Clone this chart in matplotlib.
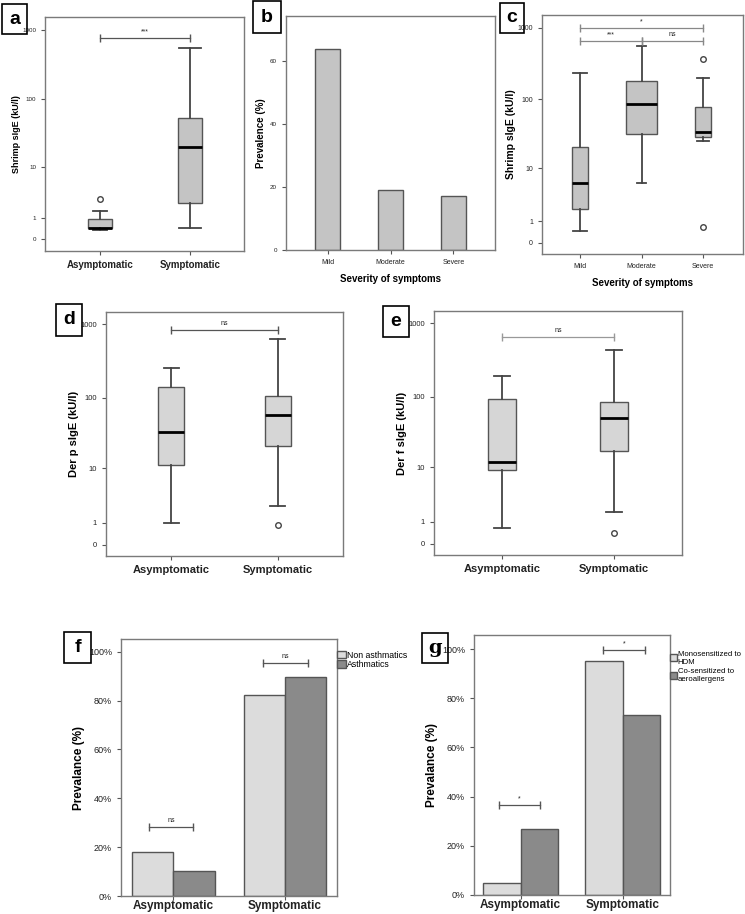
import numpy as np
import matplotlib
matplotlib.use('Agg')
import matplotlib.pyplot as plt
from matplotlib.patches import Rectangle
from matplotlib.ticker import PercentFormatter

plt.rcParams['font.family'] = ['Liberation Sans', 'DejaVu Sans']

W, H = 745, 914

# ---------------- data ----------------
groups = ['Asymptomatic', 'Symptomatic']
severity = ['Mild', 'Moderate', 'Severe']
log_ticks = [0, 1, 10, 100, 1000]

# a: shrimp sIgE (kU/l), box stats per group
a_whislo = [0.36, 0.45]
a_q1 = [0.43, 2.3]
a_med = [0.43, 20]
a_q3 = [0.95, 53]
a_whishi = [1.54, 545]
a_fliers = [[2.8], []]

# b: prevalence (%) by severity
b_prev = [63.8, 19.0, 17.2]

# c: shrimp sIgE by severity
c_whislo = [0.49, 5.95, 25.3]
c_q1 = [1.96, 31.6, 28.9]
c_med = [5.8, 86, 34]
c_q3 = [20.7, 178, 79]
c_whishi = [233, 551, 202]
c_fliers = [[], [], [367, 0.69]]

# d: Der p sIgE
d_whislo = [0.98, 2.44]
d_q1 = [11.2, 21.4]
d_med = [33, 58]
d_q3 = [141, 107]
d_whishi = [251, 625]
d_fliers = [[], [0.87]]

# e: Der f sIgE
e_whislo = [0.65, 1.72]
e_q1 = [9.3, 17.7]
e_med = [11.9, 50]
e_q3 = [93, 85.5]
e_whishi = [194, 431]
e_fliers = [[], [0.40]]

# f: prevalence (%) by asthma status
f_non_asth = [17.9, 82.1]
f_asth = [10.3, 89.7]

# g: prevalence (%) by sensitization
g_mono = [4.8, 95.2]
g_cosens = [26.7, 73.3]

fig = plt.figure(figsize=(W / 100, H / 100), dpi=100)


def px_axes(x0, y0, x1, y1):
    return fig.add_axes([x0 / W, 1 - y1 / H, (x1 - x0) / W, (y1 - y0) / H])


def panel_tag(x0, y0, x1, y1, letter, family=None):
    fig.patches.append(Rectangle((x0 / W, 1 - y1 / H), (x1 - x0) / W, (y1 - y0) / H,
                                 transform=fig.transFigure, fill=False,
                                 edgecolor='black', lw=1.2))
    kw = {}
    if family:
        kw['family'] = family
    fig.text((x0 + x1) / 2 / W, 1 - (y0 + y1) / 2 / H, letter, ha='center',
             va='center', fontsize=14, fontweight='bold', **kw)


def style(ax, ytick_fs):
    for s in ax.spines.values():
        s.set_color('#7a7a7a')
        s.set_linewidth(1)
    ax.tick_params(direction='out', length=3, width=0.8, colors='#555555',
                   labelcolor='#222222')
    ax.tick_params(axis='y', labelsize=ytick_fs)


def fwd(y):
    return np.log10(np.clip(np.asarray(y, float) + 1, 1e-6, None))


def inv(t):
    return 10 ** np.asarray(t, float) - 1


def log_axis(ax, fs):
    ax.set_yscale('function', functions=(fwd, inv))
    ax.set_ylim(inv(-0.16), inv(3.18))
    ax.set_yticks(log_ticks)
    ax.set_yticklabels([str(t) for t in log_ticks])
    ax.minorticks_off()
    ax.tick_params(axis='y', labelsize=fs)


def boxes(ax, whislo, q1, med, q3, whishi, fliers, widths, capwidths, face,
          wcolor='#444444'):
    stats = [dict(whislo=a, q1=b, med=c, q3=d, whishi=e, fliers=f)
             for a, b, c, d, e, f in zip(whislo, q1, med, q3, whishi, fliers)]
    ax.bxp(stats, positions=range(1, len(stats) + 1), widths=widths,
           capwidths=capwidths, patch_artist=True,
           boxprops=dict(facecolor=face, edgecolor='#555555', linewidth=1),
           medianprops=dict(color='black', linewidth=2),
           whiskerprops=dict(color=wcolor, linewidth=1.3),
           capprops=dict(color=wcolor, linewidth=1.3),
           flierprops=dict(marker='o', markerfacecolor='white',
                           markeredgecolor='#444444', markersize=4))


def sig(ax, x0, x1, y, text, fs=5, color='#555555'):
    ax.plot([x0, x1], [y, y], color=color, lw=0.9, marker='|', markersize=6,
            markeredgewidth=1)
    ax.annotate(text, ((x0 + x1) / 2, y), xytext=(0, 2), textcoords='offset points',
                ha='center', va='bottom', fontsize=fs, color='#222222')


# ---------------- a ----------------
ax = px_axes(45, 17, 244, 251)
boxes(ax, a_whislo, a_q1, a_med, a_q3, a_whishi, a_fliers,
      [0.26, 0.26], [0.15, 0.24], '#c4c4c4')
log_axis(ax, 4.5)
ax.set_ylim(inv(-0.167), inv(3.18))
ax.set_xlim(0.39, 2.6)
style(ax, 4.5)
ax.set_xticks([1, 2])
ax.set_xticklabels(groups, fontsize=7, fontweight='bold')
ax.set_ylabel('Shrimp sIgE (kU/l)', fontsize=6.5, fontweight='bold', labelpad=1)
sig(ax, 1, 2, 750, '***', fs=5)
panel_tag(2, 4, 27, 34, 'a')

# ---------------- b ----------------
ax = px_axes(286, 16, 495, 250)
ax.bar(range(len(severity)), b_prev, width=0.4, color='#c4c4c4',
       edgecolor='#555555', linewidth=1)
ax.set_xlim(-0.66, 2.66)
ax.set_ylim(0, 74.3)
ax.set_yticks([0, 20, 40, 60])
style(ax, 4.5)
ax.set_xticks(range(len(severity)))
ax.set_xticklabels(severity, fontsize=5)
ax.set_xlabel('Severity of symptoms', fontsize=7, fontweight='bold', labelpad=6)
ax.set_ylabel('Prevalence (%)', fontsize=7, fontweight='bold', labelpad=3)
panel_tag(253, 1, 281, 33, 'b')

# ---------------- c ----------------
ax = px_axes(542, 15, 743, 254)
boxes(ax, c_whislo, c_q1, c_med, c_q3, c_whishi, c_fliers,
      [0.26, 0.5, 0.26], [0.24, 0.15, 0.2], '#c4c4c4')
log_axis(ax, 5)
ax.set_ylim(inv(-0.154), inv(3.18))
ax.set_xlim(0.38, 3.65)
style(ax, 5)
ax.set_xticks([1, 2, 3])
ax.set_xticklabels(severity, fontsize=5)
ax.set_xlabel('Severity of symptoms', fontsize=7, fontweight='bold', labelpad=6)
ax.set_ylabel('Shrimp sIgE (kU/l)', fontsize=7.5, fontweight='bold', labelpad=1)
sig(ax, 1, 3, 1000, '*', fs=5, color='#888888')
sig(ax, 1, 2, 660, '***', fs=5, color='#888888')
sig(ax, 2, 3, 660, 'ns', fs=5, color='#888888')
panel_tag(500, 3, 524, 33, 'c')

# ---------------- d ----------------
ax = px_axes(106, 312, 343, 556)
boxes(ax, d_whislo, d_q1, d_med, d_q3, d_whishi, d_fliers,
      [0.25, 0.25], [0.14, 0.14], '#d6d6d6')
log_axis(ax, 5.5)
ax.set_ylim(inv(-0.15), inv(3.17))
ax.set_xlim(0.39, 2.61)
style(ax, 5.5)
ax.set_xticks([1, 2])
ax.set_xticklabels(groups, fontsize=8, fontweight='bold')
ax.set_ylabel('Der p sIgE (kU/l)', fontsize=8, fontweight='bold', labelpad=1)
sig(ax, 1, 2, 838, 'ns', fs=5)
panel_tag(56, 304, 82, 336, 'd')

# ---------------- e ----------------
ax = px_axes(434, 311, 682, 555)
boxes(ax, e_whislo, e_q1, e_med, e_q3, e_whishi, e_fliers,
      [0.254, 0.254], [0.14, 0.14], '#d6d6d6')
log_axis(ax, 5.5)
ax.set_ylim(inv(-0.15), inv(3.17))
ax.set_xlim(0.39, 2.61)
style(ax, 5.5)
ax.set_xticks([1, 2])
ax.set_xticklabels(groups, fontsize=8, fontweight='bold')
ax.set_ylabel('Der f sIgE (kU/l)', fontsize=8, fontweight='bold', labelpad=1)
sig(ax, 1, 2, 654, 'ns', fs=5, color='#999999')
panel_tag(383, 306, 409, 337, 'e')

# ---------------- f ----------------
x = np.arange(len(groups))
w = 0.37
ax = px_axes(121, 639, 337, 896)
ax.bar(x - w / 2, f_non_asth, w, color='#dcdcdc', edgecolor='#555555',
       linewidth=1, label='Non asthmatics')
ax.bar(x + w / 2, f_asth, w, color='#8a8a8a', edgecolor='#555555',
       linewidth=1, label='Asthmatics')
ax.set_xlim(-0.471, 1.468)
ax.set_ylim(0, 105.2)
ax.set_yticks([0, 20, 40, 60, 80, 100])
ax.yaxis.set_major_formatter(PercentFormatter(decimals=0))
style(ax, 6.5)
ax.set_xticks(x)
ax.set_xticklabels(groups, fontsize=8.5, fontweight='bold')
ax.tick_params(axis='x', length=3, pad=0)
ax.set_ylabel('Prevalance (%)', fontsize=8.5, fontweight='bold', labelpad=3)
sig(ax, -0.218, 0.179, 28.3, 'ns', fs=5)
sig(ax, 0.806, 1.209, 95.5, 'ns', fs=5)
ax.legend(loc='upper left', bbox_to_anchor=(1.0, 0.955), frameon=False,
          fontsize=6.3, handlelength=1.0, handleheight=1.0, handletextpad=0.1,
          labelspacing=0.05, borderaxespad=0, borderpad=0)
panel_tag(64, 632, 91, 663, 'f')

# ---------------- g ----------------
w = 0.367
ax = px_axes(474, 635, 670, 895)
ax.bar(x - w / 2, g_mono, w, color='#dcdcdc', edgecolor='#555555',
       linewidth=1, label='Monosensitized to\nHDM')
ax.bar(x + w / 2, g_cosens, w, color='#8a8a8a', edgecolor='#555555',
       linewidth=1, label='Co-sensitized to\naeroallergens')
ax.set_xlim(-0.459, 1.465)
ax.set_ylim(0, 105.7)
ax.set_yticks([0, 20, 40, 60, 80, 100])
ax.yaxis.set_major_formatter(PercentFormatter(decimals=0))
style(ax, 6.5)
ax.set_xticks(x)
ax.set_xticklabels(groups, fontsize=8.5, fontweight='bold')
ax.tick_params(axis='x', length=3, pad=0)
ax.set_ylabel('Prevalance (%)', fontsize=8.5, fontweight='bold', labelpad=3)
sig(ax, -0.213, 0.187, 36.5, '*', fs=5)
sig(ax, 0.809, 1.22, 99.6, '*', fs=5)
ax.legend(loc='upper left', bbox_to_anchor=(1.0, 0.94), frameon=False,
          fontsize=5.6, handlelength=0.9, handleheight=1.0, handletextpad=0.1,
          labelspacing=0.35, borderaxespad=0, borderpad=0)
panel_tag(422, 633, 448, 663, 'g', family='DejaVu Serif')

fig.savefig('out.png', dpi=100)
